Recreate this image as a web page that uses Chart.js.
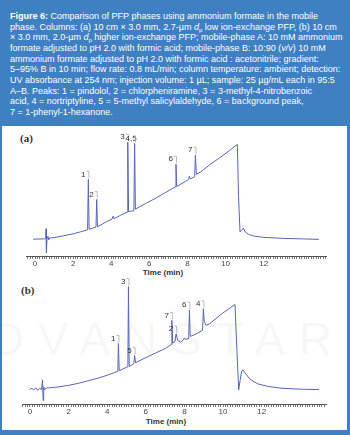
<!DOCTYPE html>
<html>
<head>
<meta charset="utf-8">
<script src="https://cdn.jsdelivr.net/npm/chart.js@4"></script>
<style>
  html, body { margin: 0; padding: 0; }
  body { width: 350px; height: 435px; background: #3f80c3; position: relative; overflow: hidden;
         font-family: "Liberation Sans", Arial, sans-serif; }
  #cap { position: absolute; left: 10px; top: 11px; color: #fff; font-size: 9px; line-height: 10.65px; white-space: nowrap; }
  #cap sub { font-size: 6px; line-height: 0; vertical-align: -2px; }
  #panel { position: absolute; left: 2px; top: 126px; width: 345px; height: 304px; background: #fff; }
  .wm { position: absolute; left: -54px; top: 312px; font-size: 46px; letter-spacing: 14px; color: rgba(0,0,0,0.045); white-space: nowrap; }
  .tag { position: absolute; font-family: "Liberation Serif", serif; font-weight: bold; font-size: 11px; color: #333; }
  .xt { position: absolute; width: 80px; margin-left: -40px; text-align: center; font-weight: bold; font-size: 8px; color: #333; }
  canvas { position: absolute; left: 0; }
</style>
</head>
<body>
<div id="cap">
<b>Figure 6:</b> Comparison of PFP phases using ammonium formate in the mobile<br>
phase. Columns: (a) 10 cm × 3.0 mm, 2.7-µm <i>d</i><sub>p</sub> low ion-exchange PFP, (b) 10 cm<br>
× 3.0 mm, 2.0-µm <i>d</i><sub>p</sub> higher ion-exchange PFP; mobile-phase A: 10 mM ammonium<br>
formate adjusted to pH 2.0 with formic acid; mobile-phase B: 10:90 (<i>v/v</i>) 10 mM<br>
ammonium formate adjusted to pH 2.0 with formic acid : acetonitrile; gradient:<br>
5–95% B in 10 min; flow rate: 0.8 mL/min; column temperature: ambient; detection:<br>
UV absorbance at 254 nm; injection volume: 1 µL; sample: 25 µg/mL each in 95:5<br>
A–B. Peaks: 1 = pindolol, 2 = chlorpheniramine, 3 = 3-methyl-4-nitrobenzoic<br>
acid, 4 = nortriptyline, 5 = 5-methyl salicylaldehyde, 6 = background peak,<br>
7 = 1-phenyl-1-hexanone.
</div>
<div id="panel"></div>
<div class="wm">ADVANSTAR</div>
<div class="tag" style="left:20px;top:132px">(a)</div>
<div class="tag" style="left:21px;top:284px">(b)</div>
<div class="xt" style="left:163px;top:268px">Time (min)</div>
<div class="xt" style="left:166px;top:417px">Time (min)</div>
<canvas id="chartA" width="350" height="145" style="top:126px"></canvas>
<canvas id="chartB" width="350" height="140" style="top:278px"></canvas>

<script>
/* chromatogram (a): time (min) and detector signal (arbitrary units) */
const timeA = [-0.1, 0.5, 0.56, 0.58, 0.6, 0.63, 0.68, 0.72, 0.78, 1.0, 1.5, 2.0, 2.4,
  2.76, 2.8, 2.84, 3.2, 3.24, 3.28, 3.7, 4.05, 4.1, 4.15, 4.5, 4.84, 4.87, 4.91,
  5.19, 5.23, 5.27, 5.8, 6.3, 6.8, 7.36, 7.4, 7.44, 7.9, 8.05, 8.1, 8.15,
  8.38, 8.42, 8.47, 8.7, 9.2, 9.7, 10.2, 10.62, 10.68, 10.76, 10.85, 10.93,
  11.05, 11.2, 11.5, 12.0, 12.5, 13.0, 14.0, 14.9];
const signalA = [16.7, 17, 17.5, 27, 3.3, 18, 19.5, 16, 18, 18.3, 20, 22, 24,
  26, 76, 26.5, 28.7, 56, 29, 33.5, 36.7, 39.5, 37, 40.5, 43.5, 113, 44,
  45, 111.5, 46.5, 52, 57, 62.5, 68.5, 91, 69, 74, 76, 79, 76.5,
  78.5, 100, 81, 83.5, 91, 97.5, 104.5, 110.7, 60, 24, 25.5, 27.7,
  23.5, 21.5, 19.7, 18.5, 18, 17.5, 17, 16.5];
const peakNamesA = ['1', '2', '3', '4,5', '6', '7'];
const peakTimesA = [2.8, 3.24, 4.87, 5.23, 7.4, 8.42];

/* chromatogram (b) */
const timeB = [-0.03, 0.1, 0.2, 0.3, 0.4, 0.5, 0.6, 0.65, 0.68, 0.71, 0.76, 0.85, 1.0,
  1.5, 2.0, 2.5, 3.0, 3.5, 4.0, 4.55, 4.58, 4.62, 5.07, 5.1, 5.14, 5.38, 5.42, 5.47,
  6.0, 6.5, 7.0, 7.32, 7.35, 7.39, 7.5, 7.57, 7.65, 7.8, 7.95, 8.0, 8.06, 8.22,
  8.26, 8.3, 8.55, 8.94, 8.98, 9.03, 9.12, 9.3, 9.9, 10.62, 10.72, 10.81, 10.88,
  10.96, 11.03, 11.15, 11.4, 11.8, 12.3, 13.0, 14.0, 14.97];
const signalB = [14.5, 15.5, 14, 16, 13.5, 15.5, 14.5, 24, 3.5, 17, 14, 16, 16,
  17, 18.5, 20.5, 23, 25.5, 28.5, 32.5, 60, 33, 37, 116.5, 37, 40, 48, 41,
  46, 50.5, 55, 59, 83, 60.5, 61.5, 69.5, 63, 61.5, 63.5, 65.5, 64, 65,
  93, 67, 69, 73, 94.5, 82, 78, 79.5, 89, 98.7, 53, 14, 23,
  32, 34, 30.5, 24.5, 20, 17.5, 15.7, 14.7, 14.3];
const peakNamesB = ['1', '3', '5', '7', '2', '6', '4'];
const peakTimesB = [4.58, 5.1, 5.42, 7.35, 7.57, 8.26, 8.98];

const tickLabels = [0, 2, 4, 6, 8, 10, 12];

const FONT = '"Liberation Sans", Arial, sans-serif';
const TRACE = '#5566b4';

/* peak numbers with little bracket leaders */
const callouts = {
  id: 'callouts',
  afterDatasetsDraw(chart, args, opts) {
    const { ctx, scales: { x, y } } = chart;
    const pts = chart.data.datasets[0].data;
    ctx.save();
    ctx.font = '8px ' + FONT;
    ctx.textAlign = 'center';
    ctx.textBaseline = 'middle';
    opts.names.forEach((name, i) => {
      const t = opts.times[i];
      const top = Math.max(...pts.filter(p => Math.abs(p.x - t) < 0.02).map(p => p.y));
      const px = x.getPixelForValue(t), py = y.getPixelForValue(top);
      const w = ctx.measureText(name).width;
      const lx = px - 3 - w / 2 + (opts.dx[i] || 0), ly = py - 5;
      ctx.fillStyle = '#333';
      ctx.fillText(name, lx, ly);
      ctx.strokeStyle = '#aaa';
      ctx.lineWidth = 0.8;
      ctx.beginPath();
      ctx.moveTo(Math.min(lx + w / 2 + 1, px - 1), ly - 3);
      ctx.lineTo(px + 0.5, ly - 3);
      ctx.lineTo(px + 0.5, py - 1);
      ctx.stroke();
    });
    ctx.restore();
  }
};

function makeChart(id, times, signal, names, peakTimes, dx, xmin, xmax, ymax, pad) {
  const tickVals = [];
  for (let k = Math.ceil(xmin * 8); k <= Math.floor(xmax * 8); k++) tickVals.push(k / 8);
  return new Chart(document.getElementById(id), {
    type: 'line',
    data: {
      datasets: [{
        data: times.map((t, i) => ({ x: t, y: signal[i] })),
        borderColor: TRACE, borderWidth: 1, pointRadius: 0, tension: 0, fill: false,
      }],
    },
    options: {
      responsive: false,
      animation: false,
      layout: { padding: pad },
      plugins: {
        legend: { display: false },
        tooltip: { enabled: false },
        callouts: { names, times: peakTimes, dx },
      },
      scales: {
        x: {
          type: 'linear', min: xmin, max: xmax,
          afterBuildTicks: s => { s.ticks = tickVals.map(v => ({ value: v })); },
          ticks: {
            autoSkip: false, maxRotation: 0, padding: 0, color: '#444',
            font: { size: 8, family: FONT },
            callback: v => tickLabels.includes(v) ? String(v) : '',
          },
          grid: { drawOnChartArea: false, drawTicks: true, tickLength: 3, color: '#777' },
          border: { color: '#555', width: 1 },
        },
        y: { display: false, min: 0, max: ymax },
      },
    },
    plugins: [callouts],
  });
}

makeChart('chartA', timeA, signalA, peakNamesA, peakTimesA, [0, 0, 0, 5, 0, 0],
  -0.436, 15.31, 125, { left: 26.7, right: 23.3, top: 4, bottom: 2.4 });
makeChart('chartB', timeB, signalB, peakNamesB, peakTimesB, [0, 0, 0, 0, 0, 0, 0],
  -0.378, 15.37, 123, { left: 22.7, right: 23.3, top: 2, bottom: 1.4 });
</script>
</body>
</html>
